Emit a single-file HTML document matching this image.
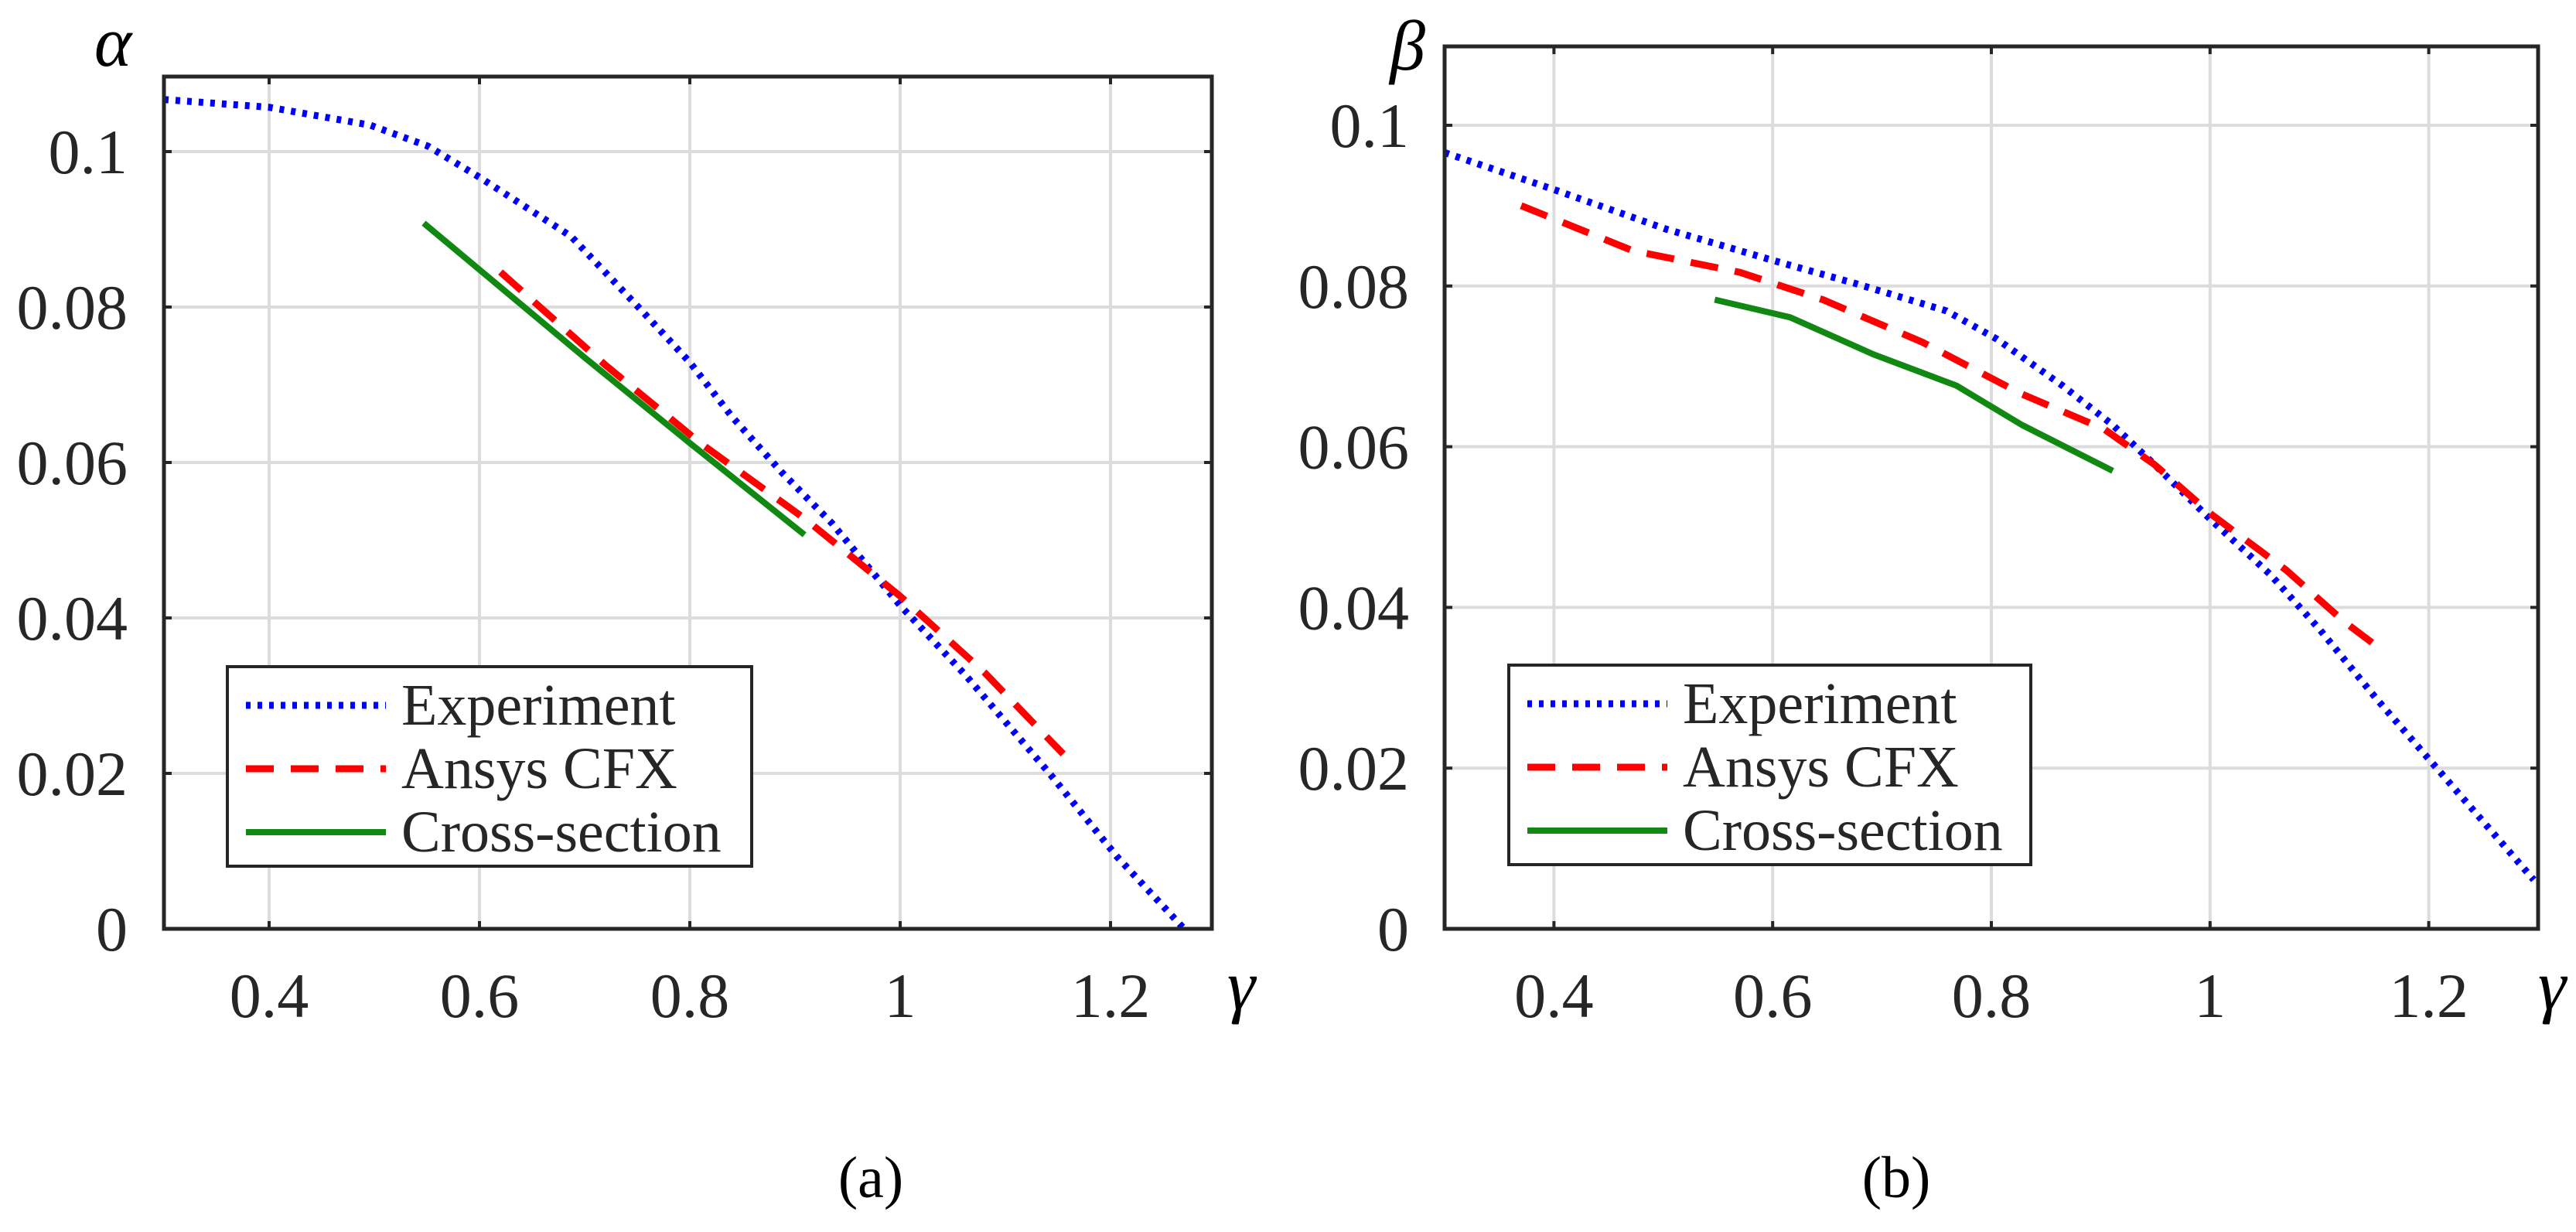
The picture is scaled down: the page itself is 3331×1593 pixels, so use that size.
<!DOCTYPE html>
<html><head><meta charset="utf-8"><style>
html,body{margin:0;padding:0;background:#fff;}
svg{display:block;}
svg text{font-family:"Liberation Serif",serif;}
</style></head><body>
<svg id="fig" width="3331" height="1593" viewBox="0 0 3331 1593" xmlns="http://www.w3.org/2000/svg" font-family="Liberation Serif, serif"></svg>
<script>
// ---- data (a) ----
const expAX = [0.3,0.4,0.496,0.551,0.6,0.687,0.751,0.8,0.84,0.887,0.935,1.0,1.063,1.142,1.206,1.27];
const expAY = [0.1067,0.1057,0.1034,0.1007,0.0967,0.0891,0.08,0.0729,0.0659,0.0588,0.0522,0.0416,0.0325,0.02,0.0093,0.0];
const cfxAX = [0.62,0.72,0.81,0.91,1.0,1.08,1.155];
const cfxAY = [0.0845,0.0725,0.0625,0.0527,0.0428,0.033,0.0225];
const crsAX = [0.547,0.7,0.8,0.909];
const crsAY = [0.0908,0.0735,0.0625,0.0507];
// ---- data (b) ----
const expBX = [0.3,0.4,0.502,0.6,0.676,0.759,0.805,0.865,0.911,0.949,1.0,1.055,1.1,1.153,1.206,1.296];
const expBY = [0.0966,0.092,0.0871,0.0832,0.0803,0.0769,0.0734,0.0676,0.0627,0.0578,0.051,0.0441,0.0373,0.0285,0.0202,0.0061];
const cfxBX = [0.37,0.472,0.57,0.646,0.737,0.827,0.903,0.949,1.002,1.07,1.122,1.16];
const cfxBY = [0.09,0.0844,0.0817,0.0783,0.073,0.0666,0.0622,0.0578,0.0515,0.0446,0.0383,0.0344];
const crsBX = [0.547,0.616,0.692,0.768,0.828,0.911];
const crsBY = [0.0783,0.0761,0.0715,0.0676,0.0627,0.057];
// ---- ticks ----
const xTicks = [0.4,0.6,0.8,1.0,1.2];
const xTickLabels = ["0.4","0.6","0.8","1","1.2"];
const yTicks = [0,0.02,0.04,0.06,0.08,0.1];
const yTickLabels = ["0","0.02","0.04","0.06","0.08","0.1"];
const legendLabels = ["Experiment","Ansys CFX","Cross-section"];

const NS="http://www.w3.org/2000/svg";
const svg=document.getElementById('fig');
const FF='Liberation Serif, serif';
function mk(tag,attrs,parent){const e=document.createElementNS(NS,tag);for(const k in attrs)e.setAttribute(k,attrs[k]);if(tag==='text')e.setAttribute('font-family',FF);(parent||svg).appendChild(e);return e;}

const panels=[
 {id:'a',L:212,R:1567,T:99,B:1201,x0:0.3,x1:1.2963,y0px:1201,y01px:196,
  series:[[expAX,expAY],[cfxAX,cfxAY],[crsAX,crsAY]],ylab:'α',ylx:146,yly:85,
  lab:{x:1126,y:1548,t:'(a)'},leg:{x:294,y:862,w:678,h:258},labR:165,gx:1605},
 {id:'b',L:1868,R:3282,T:60,B:1201,x0:0.3,x1:1.3,y0px:1201,y01px:162,
  series:[[expBX,expBY],[cfxBX,cfxBY],[crsBX,crsBY]],ylab:'β',ylx:1820,yly:90,
  lab:{x:2452,y:1548,t:'(b)'},leg:{x:1951,y:860,w:675,h:258},labR:1822,gx:3300}
];
const styles=[
 {stroke:'#0000ff',dash:'6 9',w:9,name:'experiment'},
 {stroke:'#ff0000',dash:'36 22',w:9,name:'ansys-cfx'},
 {stroke:'#118811',dash:'',w:8,name:'cross-section'}
];

panels.forEach(p=>{
 const g=mk('g',{});
 
 
 const sx=v=>p.L+(v-p.x0)/(p.x1-p.x0)*(p.R-p.L);
 const sy=v=>p.y0px+(v/0.1)*(p.y01px-p.y0px);
 xTicks.forEach((t,i)=>{
  const l=mk('line',{x1:sx(t),x2:sx(t),y1:p.T,y2:p.B,stroke:'#dcdcdc','stroke-width':4},g);
  
  
  mk('line',{x1:sx(t),x2:sx(t),y1:p.B,y2:p.B-10,stroke:'#262626','stroke-width':4},g);
  mk('line',{x1:sx(t),x2:sx(t),y1:p.T,y2:p.T+10,stroke:'#262626','stroke-width':4},g);
  const tx=mk('text',{x:sx(t),y:1315,'text-anchor':'middle','font-size':82,fill:'#262626'},g);
  tx.textContent=xTickLabels[i];
  
  
 });
 yTicks.forEach((t,i)=>{
  if(t>0){
   const l=mk('line',{x1:p.L,x2:p.R,y1:sy(t),y2:sy(t),stroke:'#dcdcdc','stroke-width':4},g);
   
   
  }
  mk('line',{x1:p.L,x2:p.L+10,y1:sy(t),y2:sy(t),stroke:'#262626','stroke-width':4},g);
  mk('line',{x1:p.R,x2:p.R-10,y1:sy(t),y2:sy(t),stroke:'#262626','stroke-width':4},g);
  const tx=mk('text',{x:p.labR,y:sy(t)+28,'text-anchor':'end','font-size':82,fill:'#262626'},g);
  tx.textContent=yTickLabels[i];
  
  
 });
 p.series.forEach((s,k)=>{
  const st=styles[k];
  const pts=s[0].map((x,i)=>sx(x).toFixed(1)+','+sy(s[1][i]).toFixed(1)).join(' ');
  const pl=mk('polyline',{points:pts,fill:'none',stroke:st.stroke,'stroke-width':st.w,'stroke-dasharray':st.dash,'stroke-linejoin':'round'},g);
  
  
 });
 const box=mk('rect',{x:p.L,y:p.T,width:p.R-p.L,height:p.B-p.T,fill:'none',stroke:'#262626','stroke-width':5},g);
 
 
 const yl=mk('text',{x:p.ylx,y:p.yly,'text-anchor':'middle','font-size':92,'font-style':'italic',fill:'#000'},g);
 yl.textContent=p.ylab;
 
 
 const xl=mk('text',{x:p.gx,y:1305,'text-anchor':'middle','font-size':92,'font-style':'italic',fill:'#000'},g);
 xl.textContent='γ';
 
 
 const lg=mk('g',{},g);
 
 
 mk('rect',{x:p.leg.x,y:p.leg.y,width:p.leg.w,height:p.leg.h,fill:'#fff',stroke:'#262626','stroke-width':4},lg);
 legendLabels.forEach((t,k)=>{
  const st=styles[k];
  const yy=p.leg.y+50+k*82;
  const ln=mk('line',{x1:p.leg.x+24,x2:p.leg.x+205,y1:yy,y2:yy,stroke:st.stroke,'stroke-width':st.w,'stroke-dasharray':st.dash},lg);
  
  
  const tx=mk('text',{x:p.leg.x+225,y:yy+25,'font-size':76,fill:'#262626'},lg);
  tx.textContent=t;
  
  
 });
 const cap=mk('text',{x:p.lab.x,y:p.lab.y,'text-anchor':'middle','font-size':76,fill:'#000'},svg);
 cap.textContent=p.lab.t;
 
 
});
</script>
</body></html>
